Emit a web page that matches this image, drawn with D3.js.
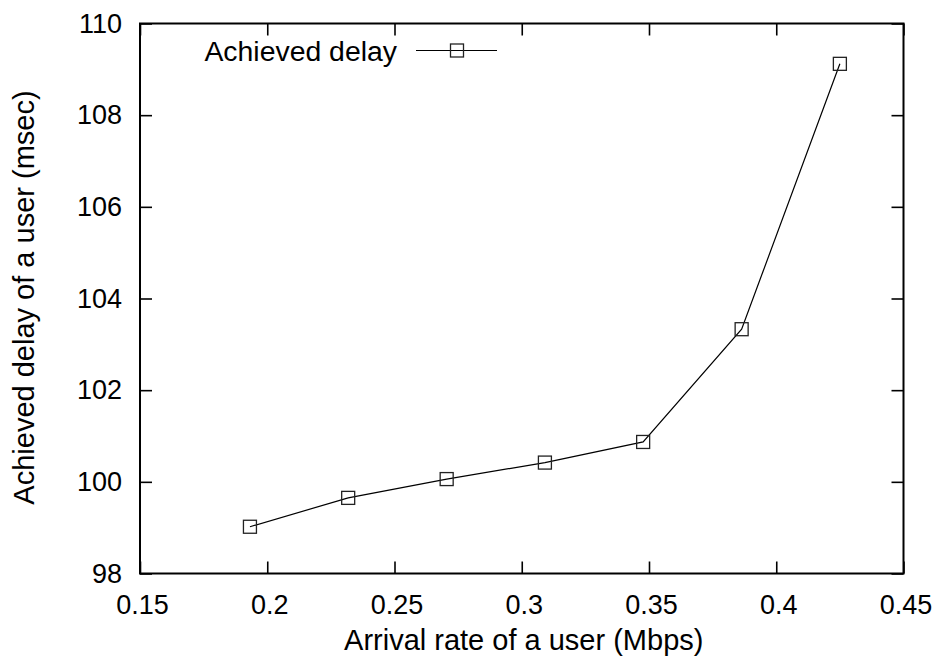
<!DOCTYPE html>
<html>
<head>
<meta charset="utf-8">
<script src="https://cdn.jsdelivr.net/npm/d3@7"></script>
<style>
  html, body { margin: 0; padding: 0; background: #fff; }
  svg { display: block; font-family: "Liberation Sans", Arial, sans-serif; }
</style>
</head>
<body>
<svg id="chart" width="937" height="662"></svg>
<script>
// Arrival rate (Mbps) and the resulting delay (msec)
const arrivalRate = [0.1932, 0.2318, 0.2705, 0.3091, 0.3477, 0.3864, 0.4250];
const achievedDelay = [99.02, 99.65, 100.06, 100.42, 100.87, 103.33, 109.12];
const xTicks = [0.15, 0.2, 0.25, 0.3, 0.35, 0.4, 0.45];
const yTicks = [98, 100, 102, 104, 106, 108, 110];
const seriesName = "Achieved delay";
const xTitle = "Arrival rate of a user (Mbps)";
const yTitle = "Achieved delay of a user (msec)";

const svg = d3.select("#chart");
const plotL = 140, plotR = 903.5, plotT = 23.5, plotB = 573.5;
const tickFont = 27, titleFont = 29, legendFont = 28.4;

const x = d3.scaleLinear().domain([0.15, 0.45]).range([plotL, plotR]);
const y = d3.scaleLinear().domain([98, 110]).range([plotB, plotT]);
const fmtX = d => String(+d.toFixed(2));

// bottom axis with labels, inward ticks
const gx = svg.append("g").attr("transform", `translate(0,${plotB})`)
  .call(d3.axisBottom(x).tickValues(xTicks).tickFormat(fmtX).tickSizeInner(-12).tickSizeOuter(0).tickPadding(21));
// left axis with labels
const gy = svg.append("g").attr("transform", `translate(${plotL},0)`)
  .call(d3.axisLeft(y).tickValues(yTicks).tickFormat(d3.format("d")).tickSizeInner(-12).tickSizeOuter(0).tickPadding(18));
// mirrored ticks on top and right
const gt = svg.append("g").attr("transform", `translate(0,${plotT})`)
  .call(d3.axisTop(x).tickValues(xTicks).tickFormat("").tickSizeInner(-12).tickSizeOuter(0));
const gr = svg.append("g").attr("transform", `translate(${plotR},0)`)
  .call(d3.axisRight(y).tickValues(yTicks).tickFormat("").tickSizeInner(-12).tickSizeOuter(0));

[gx, gy, gt, gr].forEach(g => {
  g.select(".domain").remove();
  g.selectAll(".tick line").attr("stroke", "#000").attr("stroke-width", 1.6);
  g.selectAll(".tick text").attr("fill", "#000").attr("font-size", tickFont)
    .attr("font-family", "Liberation Sans, Arial, sans-serif");
});
gx.selectAll(".tick text").attr("dy", "0.71em").attr("dx", 2);

// plot frame
svg.append("rect")
  .attr("x", plotL).attr("y", plotT)
  .attr("width", plotR - plotL).attr("height", plotB - plotT)
  .attr("fill", "none").attr("stroke", "#000").attr("stroke-width", 2);

// data line
const pts = arrivalRate.map((v, i) => [v, achievedDelay[i]]);
svg.append("path")
  .datum(pts)
  .attr("fill", "none").attr("stroke", "#000").attr("stroke-width", 1.2)
  .attr("d", d3.line().x(d => x(d[0])).y(d => y(d[1])));

// square markers
const ms = 13;
svg.selectAll("rect.pt").data(pts).enter().append("rect")
  .attr("class", "pt")
  .attr("x", d => x(d[0]) - ms / 2).attr("y", d => y(d[1]) - ms / 2)
  .attr("width", ms).attr("height", ms)
  .attr("fill", "none").attr("stroke", "#222").attr("stroke-width", 1.3);

// legend
const ly = 50.5;
svg.append("text").attr("x", 397).attr("y", ly).attr("dy", "0.36em")
  .attr("text-anchor", "end").attr("font-size", legendFont).text(seriesName);
svg.append("line").attr("x1", 416).attr("x2", 497).attr("y1", ly).attr("y2", ly)
  .attr("stroke", "#000").attr("stroke-width", 1.2);
svg.append("rect").attr("x", 457 - ms / 2).attr("y", ly - ms / 2)
  .attr("width", ms).attr("height", ms)
  .attr("fill", "none").attr("stroke", "#222").attr("stroke-width", 1.3);

// axis titles
svg.append("text").attr("x", (plotL + plotR) / 2 + 2).attr("y", 650)
  .attr("text-anchor", "middle").attr("font-size", titleFont).text(xTitle);
svg.append("text")
  .attr("transform", `translate(33.5,${(plotT + plotB) / 2 - 1}) rotate(-90)`)
  .attr("text-anchor", "middle").attr("font-size", titleFont).text(yTitle);
</script>
</body>
</html>
